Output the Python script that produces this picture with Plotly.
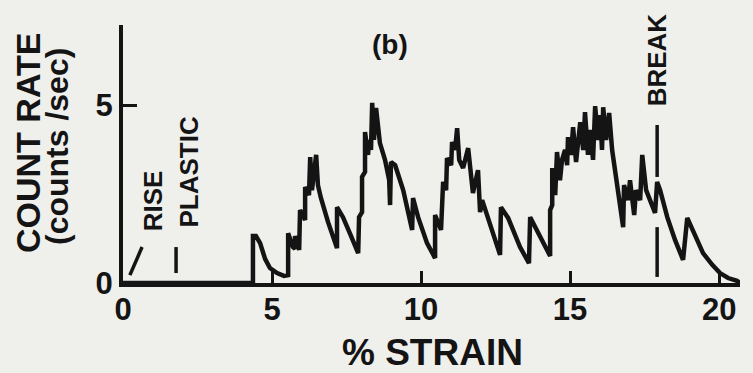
import plotly.graph_objects as go

# Acoustic emission count rate versus strain
strain = [0.00, 4.36, 4.36, 4.46, 4.60, 4.77, 4.93, 5.17, 5.40, 5.54, 5.54, 5.70, 5.77, 5.77, 5.91,
          5.94, 6.11, 6.11, 6.24, 6.28, 6.34, 6.48, 6.54, 6.64, 6.88, 7.18, 7.18, 7.38, 7.62, 7.89,
          7.92, 8.02, 8.02, 8.12, 8.12, 8.22, 8.26, 8.32, 8.36, 8.42, 8.49, 8.56, 8.62, 8.79, 8.93,
          8.96, 8.99, 9.13, 9.40, 9.70, 9.73, 9.90, 10.20, 10.47, 10.47, 10.67, 10.74, 10.84, 10.87,
          11.01, 11.04, 11.14, 11.21, 11.28, 11.41, 11.58, 11.68, 11.74, 11.91, 11.98, 12.05, 12.32,
          12.65, 12.68, 12.92, 13.32, 13.62, 13.66, 13.89, 14.33, 14.33, 14.40, 14.40, 14.50, 14.56,
          14.66, 14.73, 14.83, 14.90, 14.93, 15.03, 15.10, 15.20, 15.27, 15.34, 15.44, 15.50, 15.60,
          15.67, 15.77, 15.84, 15.94, 16.01, 16.07, 16.11, 16.21, 16.31, 16.41, 16.58, 16.78, 16.81,
          16.95, 17.01, 17.15, 17.21, 17.35, 17.42, 17.55, 17.85, 17.92, 18.02, 18.26, 18.52, 18.79,
          18.93, 19.09, 19.46, 19.77, 20.03, 20.30, 20.60, 20.70]
count_rate = [0.00, 0.00, 1.32, 1.32, 1.12, 0.67, 0.42, 0.28, 0.20, 0.22, 1.40, 1.01, 0.96, 1.32, 0.93,
              2.05, 1.77, 2.70, 2.47, 3.54, 2.61, 3.60, 2.75, 2.39, 1.71, 0.98, 2.13, 1.85, 1.38, 0.84,
              1.85, 1.99, 2.98, 3.12, 4.24, 3.60, 4.02, 3.74, 5.06, 4.02, 4.92, 4.44, 3.93, 3.46, 2.89,
              2.19, 3.40, 3.31, 2.61, 1.49, 2.39, 1.85, 1.12, 0.70, 1.91, 1.49, 2.84, 2.61, 3.51,
              3.31, 3.96, 3.74, 4.35, 3.46, 3.23, 3.79, 2.89, 2.53, 3.17, 1.99, 2.33, 1.63,
              0.79, 2.13, 1.83, 1.01, 0.56, 1.85, 1.49, 0.76, 2.05, 2.19, 3.23, 2.47, 3.68,
              2.89, 3.46, 3.74, 3.31, 4.10, 3.60, 4.38, 3.40, 4.16, 4.52, 3.74, 4.80, 3.60,
              4.30, 3.46, 4.97, 4.02, 4.72, 3.74, 4.94, 4.02, 4.78, 3.74, 2.75, 1.57, 2.75,
              2.33, 2.89, 1.91, 2.61, 2.33, 3.60, 2.61, 1.97, 2.84, 2.61, 1.85, 1.21, 0.65,
              1.83, 1.54, 0.84, 0.51, 0.28, 0.14, 0.06, 0.00]

# Event markers (strain, count rate end points)
rise_x = [0.23, 0.64]
rise_y = [0.22, 1.01]
plastic_x = [1.78, 1.78]
plastic_y = [0.28, 1.01]
break_x = [17.92, 17.92, None, 17.92, 17.92]
break_y = [4.44, 2.98, None, 1.57, 0.17]

x_ticks = [0, 5, 10, 15, 20]
y_ticks = [0, 5]

INK = "#141414"
PAPER = "#efefec"
FONT = "Liberation Sans"

fig = go.Figure()
fig.add_trace(go.Scatter(x=strain, y=count_rate, mode="lines",
                         line=dict(color=INK, width=4.5), hoverinfo="skip"))
for mx, my in [(rise_x, rise_y), (plastic_x, plastic_y), (break_x, break_y)]:
    fig.add_trace(go.Scatter(x=mx, y=my, mode="lines",
                             line=dict(color=INK, width=3.5), hoverinfo="skip"))

labels = [
    dict(text="RISE", x=1.01, y=2.30, size=26),
    dict(text="PLASTIC", x=2.20, y=3.12, size=26),
    dict(text="BREAK", x=17.92, y=6.26, size=26),
]
for lab in labels:
    fig.add_annotation(x=lab["x"], y=lab["y"], text=lab["text"], textangle=-90,
                       showarrow=False, xref="x", yref="y",
                       xanchor="center", yanchor="middle",
                       font=dict(family=FONT, size=lab["size"], color=INK, weight="bold"))

fig.add_annotation(x=8.96, y=6.69, text="(b)", showarrow=False, xref="x", yref="y",
                   xanchor="center", yanchor="middle",
                   font=dict(family=FONT, size=28, color=INK, weight="bold"))

# axis titles placed in paper coordinates
fig.add_annotation(x=(432 - 123) / 617, y=-(352 - 283) / 258, text="% STRAIN",
                   showarrow=False, xref="paper", yref="paper",
                   xanchor="center", yanchor="middle",
                   font=dict(family=FONT, size=37, color=INK, weight="bold"))
fig.add_annotation(x=(28 - 123) / 617, y=(283 - 143) / 258, text="COUNT RATE", textangle=-90,
                   showarrow=False, xref="paper", yref="paper",
                   xanchor="center", yanchor="middle",
                   font=dict(family=FONT, size=34, color=INK, weight="bold"))
fig.add_annotation(x=(57 - 123) / 617, y=(283 - 147) / 258, text="(counts /sec)", textangle=-90,
                   showarrow=False, xref="paper", yref="paper",
                   xanchor="center", yanchor="middle",
                   font=dict(family=FONT, size=32, color=INK, weight="bold"))

fig.update_layout(
    width=753, height=373,
    margin=dict(l=123, r=13, t=25, b=90),
    paper_bgcolor=PAPER, plot_bgcolor=PAPER,
    showlegend=False,
    xaxis=dict(range=[0, 20.7], tickvals=x_ticks, ticktext=[str(v) for v in x_ticks],
               showgrid=False, zeroline=False, showline=True, linecolor=INK, linewidth=4,
               ticks="inside", ticklen=12, tickwidth=3, tickcolor=INK, ticklabelstandoff=-4,
               tickfont=dict(family=FONT, size=31, color=INK, weight="bold")),
    yaxis=dict(range=[0, 7.25], tickvals=y_ticks, ticktext=[str(v) for v in y_ticks],
               showgrid=False, zeroline=False, showline=True, linecolor=INK, linewidth=4,
               ticks="inside", ticklen=14, tickwidth=3, tickcolor=INK,
               tickfont=dict(family=FONT, size=31, color=INK, weight="bold")),
)

fig.write_html("out.html")
